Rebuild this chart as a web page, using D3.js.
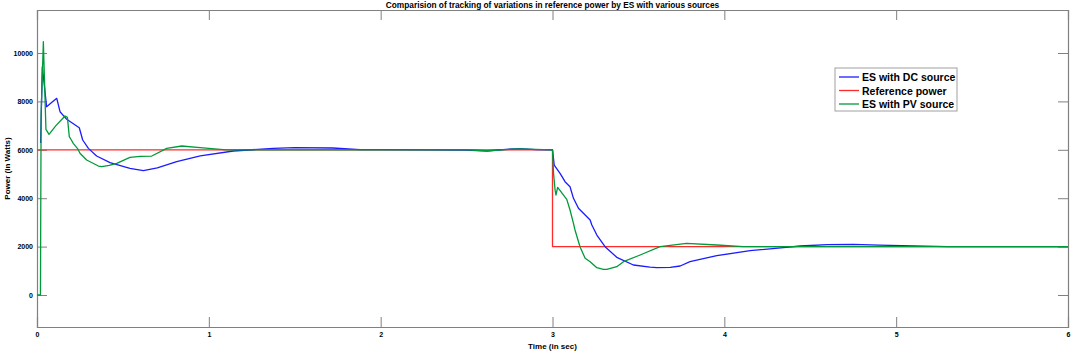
<!DOCTYPE html>
<html lang="en">
<head>
    <meta charset="UTF-8">
    <title>ES power tracking</title>
    <script src="https://d3js.org/d3.v7.min.js"></script>
    <style>
        body { margin: 0; background: #fff; }
        text { font-family: "Liberation Sans", Arial, sans-serif; font-weight: bold; }
    </style>
</head>
<body>
    <div id="chart"></div>

    <script>
        // Data (time in s, power in W)
        const dcSource = [
            [0.021, 6280], [0.031, 9434], [0.056, 7780], [0.085, 7950], [0.115, 8127],
            [0.134, 7574], [0.173, 7260], [0.246, 6913], [0.266, 6405], [0.299, 6060],
            [0.347, 5743], [0.425, 5467], [0.541, 5235], [0.619, 5136], [0.7, 5250],
            [0.813, 5508], [0.95, 5750], [1.143, 5950], [1.374, 6061], [1.5, 6090],
            [1.72, 6075], [1.88, 6010], [2.0, 6010], [2.3, 5995], [2.5, 5990],
            [2.62, 5950], [2.73, 6020], [2.81, 6045], [2.9, 6010], [3.0, 6000],
            [3.01, 5372], [3.044, 5028], [3.073, 4682], [3.102, 4475], [3.122, 3995],
            [3.151, 3582], [3.219, 3099], [3.229, 2892], [3.258, 2479], [3.306, 1996],
            [3.374, 1557], [3.471, 1240], [3.568, 1150], [3.607, 1130], [3.685, 1145],
            [3.743, 1198], [3.8, 1376], [3.956, 1624], [4.15, 1831], [4.344, 1955],
            [4.44, 2025], [4.6, 2080], [4.75, 2090], [4.9, 2060], [5.1, 2030],
            [5.3, 2000], [6.0, 2000]
        ];
        const referencePower = [[0, 6000], [3, 6000], [3, 2000], [6, 2000]];
        const pvSource = [
            [0, 0], [0.02, 0], [0.024, 7500], [0.037, 10466], [0.052, 6847],
            [0.07, 6640], [0.11, 7000], [0.163, 7396], [0.177, 7342], [0.188, 6541],
            [0.2, 6405], [0.211, 6268], [0.235, 6062], [0.25, 5855], [0.289, 5578],
            [0.357, 5330], [0.377, 5301], [0.42, 5360], [0.464, 5442], [0.541, 5690],
            [0.6, 5730], [0.668, 5743], [0.755, 6062], [0.842, 6157], [0.949, 6087],
            [1.1, 6000], [2.5, 6000], [2.62, 5960], [2.8, 6040], [3.0, 6000],
            [3.006, 5028], [3.015, 4339], [3.02, 4132], [3.03, 4450], [3.083, 3954],
            [3.102, 3512], [3.122, 2962], [3.131, 2686], [3.16, 1996], [3.19, 1516],
            [3.219, 1376], [3.258, 1128], [3.296, 1062], [3.316, 1062], [3.374, 1170],
            [3.413, 1376], [3.51, 1653], [3.626, 1996], [3.78, 2136], [3.956, 2066],
            [4.11, 2000], [6.0, 2000]
        ];
        const xTicks = [0, 1, 2, 3, 4, 5, 6];
        const yTicks = [0, 2000, 4000, 6000, 8000, 10000];
        const legendLabels = ["ES with DC source", "Reference power", "ES with PV source"];

        const width = 1072;
        const height = 352;
        const margin = { top: 10, right: 4, bottom: 25, left: 37 };

        const svg = d3.select("#chart")
            .append("svg")
            .attr("width", width)
            .attr("height", height);

        const x = d3.scaleLinear().domain([0, 6]).range([margin.left, width - margin.right]);
        const y = d3.scaleLinear().domain([-1322, 11777]).range([height - margin.bottom, margin.top]);

        const axisColor = "#808080";
        const tickLen = 10;

        // ticks inside the box, on all four sides
        const bottomAxis = svg.append("g")
            .attr("transform", `translate(0,${y.range()[0]})`)
            .call(d3.axisBottom(x).tickValues(xTicks).tickSize(-tickLen).tickPadding(5).tickFormat(d3.format("d")));
        const topAxis = svg.append("g")
            .attr("transform", `translate(0,${y.range()[1]})`)
            .call(d3.axisTop(x).tickValues(xTicks).tickSize(-tickLen).tickFormat(""));
        const leftAxis = svg.append("g")
            .attr("transform", `translate(${x.range()[0]},0)`)
            .call(d3.axisLeft(y).tickValues(yTicks).tickSize(-tickLen).tickPadding(4).tickFormat(d3.format("d")));
        const rightAxis = svg.append("g")
            .attr("transform", `translate(${x.range()[1]},0)`)
            .call(d3.axisRight(y).tickValues(yTicks).tickSize(-tickLen).tickFormat(""));

        [bottomAxis, topAxis, leftAxis, rightAxis].forEach(g => {
            g.select(".domain").attr("stroke", axisColor).attr("stroke-width", 1.2);
            g.selectAll(".tick line").attr("stroke", axisColor).attr("stroke-width", 1);
            g.selectAll(".tick text").attr("fill", "#000").style("font-size", "7px");
        });

        const line = d3.line().x(d => x(d[0])).y(d => y(d[1]));

        const series = [
            { data: dcSource, color: "#1c1cff" },
            { data: referencePower, color: "#ff2a2a" },
            { data: pvSource, color: "#009a3a" }
        ];

        // reference first so the other traces sit above it, like the picture
        [series[1], series[0], series[2]].forEach(s => {
            svg.append("path")
                .datum(s.data)
                .attr("fill", "none")
                .attr("stroke", s.color)
                .attr("stroke-width", 1.3)
                .attr("stroke-linejoin", "round")
                .attr("d", line);
        });

        // titles
        svg.append("text")
            .attr("x", (x.range()[0] + x.range()[1]) / 2)
            .attr("y", 8)
            .attr("text-anchor", "middle")
            .style("font-size", "8.3px")
            .text("Comparision of tracking of variations in reference power by ES with various sources");

        svg.append("text")
            .attr("x", (x.range()[0] + x.range()[1]) / 2)
            .attr("y", 349)
            .attr("text-anchor", "middle")
            .style("font-size", "8px")
            .text("Time (in sec)");

        svg.append("text")
            .attr("transform", `translate(10,${(y.range()[0] + y.range()[1]) / 2}) rotate(-90)`)
            .attr("text-anchor", "middle")
            .style("font-size", "8px")
            .text("Power (in Watts)");

        // legend
        const legend = svg.append("g").attr("transform", "translate(835,68)");
        legend.append("rect")
            .attr("width", 122)
            .attr("height", 43)
            .attr("fill", "#fff")
            .attr("stroke", "#a0a0a0")
            .attr("stroke-width", 1);

        series.forEach((s, i) => {
            const row = legend.append("g").attr("transform", `translate(0,${9 + i * 13.5})`);
            row.append("line")
                .attr("x1", 4).attr("x2", 24)
                .attr("stroke", s.color)
                .attr("stroke-width", 1.3);
            row.append("text")
                .attr("x", 27)
                .attr("y", 4)
                .style("font-size", "10.5px")
                .text(legendLabels[i]);
        });
    </script>
</body>
</html>
